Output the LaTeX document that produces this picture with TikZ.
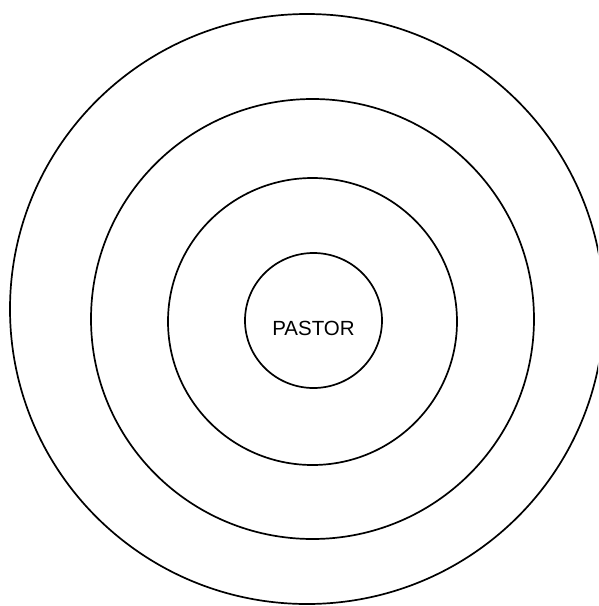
\documentclass[tikz,border=0pt]{standalone}
\usepackage{fontspec}
\setmainfont{Liberation Sans}
\begin{document}
\begin{tikzpicture}[x=1pt,y=-1pt,
  ring/.style={draw=black,line width=1.7pt}]
\useasboundingbox (0,0) rectangle (598,606);
\begin{scope}
\clip (0,0) rectangle (598,606);
\draw[ring] (307,309) ellipse [x radius=297,y radius=295];
\end{scope}
\draw[ring] (312.5,319) ellipse [x radius=221.5,y radius=220];
\draw[ring] (312.5,321.5) ellipse [x radius=144.5,y radius=143.5];
\draw[ring] (313.5,320.5) ellipse [x radius=68.5,y radius=67.5];
\node[inner sep=0pt,anchor=base,font=\fontsize{20.5}{24}\selectfont] (pastor) at (313.5,335) {PASTOR};
\end{tikzpicture}
\end{document}
